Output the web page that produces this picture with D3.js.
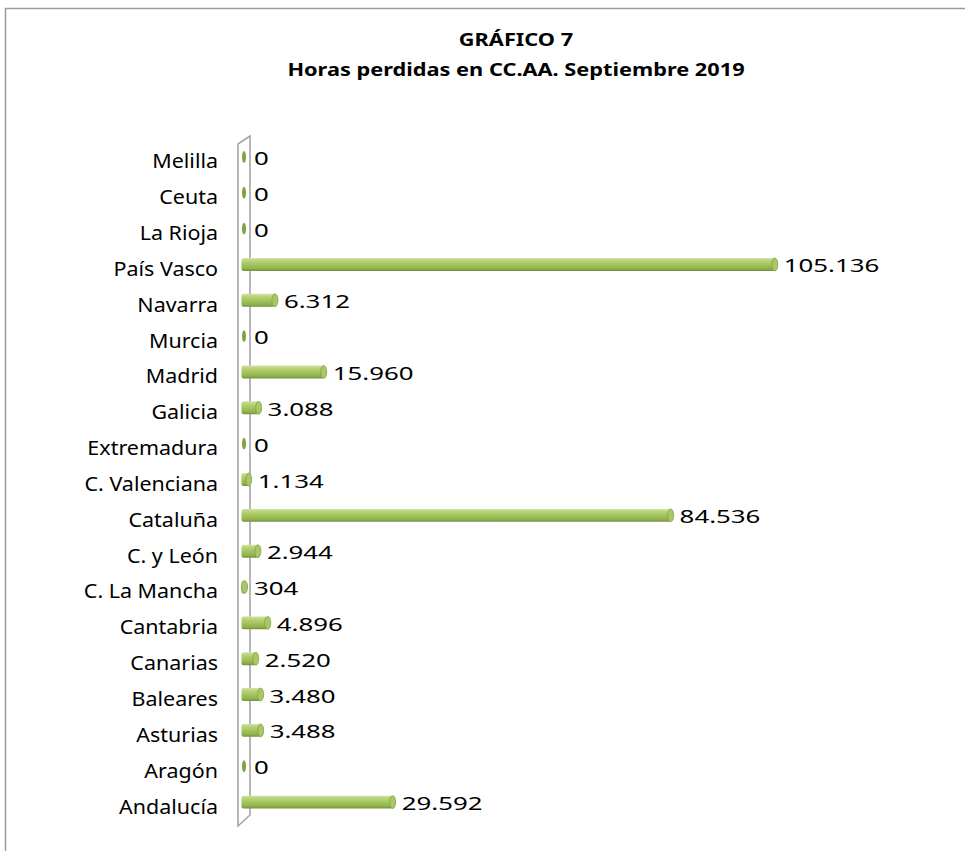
<!DOCTYPE html>
<html>
<head>
<meta charset="utf-8">
<script src="https://cdn.jsdelivr.net/npm/d3@7"></script>
<style>
  body { margin: 0; background: #fff; }
  svg { display: block; }
</style>
</head>
<body>
<svg id="svg" width="965" height="851"></svg>
<script>
// data, bottom row first (as in the Excel sheet)
const regions = ['Andalucía', 'Aragón', 'Asturias', 'Baleares', 'Canarias', 'Cantabria',
                 'C. La Mancha', 'C. y León', 'Cataluña', 'C. Valenciana', 'Extremadura',
                 'Galicia', 'Madrid', 'Murcia', 'Navarra', 'País Vasco', 'La Rioja', 'Ceuta', 'Melilla'];
const hours = [29592, 0, 3488, 3480, 2520, 4896, 304, 2944, 84536, 1134, 0,
               3088, 15960, 0, 6312, 105136, 0, 0, 0];
const titleLines = ['GRÁFICO 7', 'Horas perdidas en CC.AA. Septiembre 2019'];
const xMax = 120000;

const rows = regions.map((r, i) => ({region: r, value: hours[i]}));

const svg = d3.select('#svg');
const font = '"Noto Sans", "Open Sans", sans-serif';
const es = d3.formatLocale({decimal: ',', thousands: '.', grouping: [3], currency: ['', ' €']});
const fmt = es.format(',d');

// outer frame (only top and left show)
svg.append('rect')
    .attr('x', 5.5).attr('y', 8.5)
    .attr('width', 1000).attr('height', 900)
    .attr('fill', 'none')
    .attr('stroke', '#9a9a9a')
    .attr('stroke-width', 1.5);

// title
svg.selectAll('text.title').data(titleLines)
    .enter()
    .append('text')
    .classed('title', true)
    .attr('transform', (d, i) => 'translate(516,' + (46 + i * 30) + ') scale(1.28,1)')
    .attr('text-anchor', 'middle')
    .attr('font-family', font)
    .attr('font-weight', 'bold')
    .attr('font-size', '17px')
    .attr('fill', '#000')
    .text(d => d);

const yScale = d3.scaleBand()
                .domain(regions.slice().reverse())
                .range([139, 820])
                .paddingInner(0.64)
                .paddingOuter(0.32);
const xScale = d3.scaleLinear()
                .domain([0, xMax])
                .range([243, 850]);

const bw = yScale.bandwidth();
const cy = d => yScale(d.region) + bw / 2;

// gradient for the cylinders
const defs = svg.append('defs');
const grad = defs.append('linearGradient')
    .attr('id', 'barGrad')
    .attr('x1', 0).attr('y1', 0).attr('x2', 0).attr('y2', 1);
[[0, '#d2e3a8'], [0.2, '#b9d479'], [0.5, '#a5c55f'], [0.82, '#8fb24a'], [1, '#748f39']]
    .forEach(s => grad.append('stop').attr('offset', s[0]).attr('stop-color', s[1]));

// the thin 3D wall along the category axis
const r0 = yScale.range()[0], r1 = yScale.range()[1];
const wallFront = 238, wallBack = 250;
svg.append('path')
    .attr('d', 'M' + wallFront + ',' + (r1 + 6) +
               'L' + wallFront + ',' + (r0 + 5) +
               'L' + wallBack + ',' + (r0 - 3) +
               'L' + wallBack + ',' + (r1 - 5) + 'Z')
    .attr('fill', '#fff')
    .attr('stroke', '#a6a6a6')
    .attr('stroke-width', 1.6);

// bars
const x0 = xScale(0);
const bars = svg.append('g').selectAll('g.bar').data(rows)
    .enter()
    .append('g')
    .classed('bar', true);

bars.filter(d => d.value > 0)
    .append('rect')
    .attr('x', x0 - 1.5)
    .attr('y', d => yScale(d.region))
    .attr('width', d => xScale(d.value) - x0 + 1.5)
    .attr('height', bw)
    .attr('rx', 2)
    .attr('fill', 'url(#barGrad)');

bars.filter(d => d.value > 0)
    .append('ellipse')
    .attr('cx', d => xScale(d.value))
    .attr('cy', cy)
    .attr('rx', 3)
    .attr('ry', bw / 2)
    .attr('fill', '#a9c765')
    .attr('stroke', '#84a147')
    .attr('stroke-width', 0.8);

bars.filter(d => d.value === 0)
    .append('ellipse')
    .attr('cx', x0 + 1)
    .attr('cy', cy)
    .attr('rx', 2)
    .attr('ry', bw / 2 - 0.5)
    .attr('fill', '#7fa341');

// value labels, kept clear of the wall
svg.append('g').selectAll('text').data(rows)
    .enter()
    .append('text')
    .attr('transform', d => 'translate(' + Math.max(xScale(d.value) + 9, wallBack + 4) + ',' + (cy(d) + 8) + ') scale(1.36,1)')
    .attr('font-family', font)
    .attr('font-size', '19px')
    .attr('fill', '#000')
    .text(d => fmt(d.value));

// category axis labels
const yAxis = svg.append('g')
    .attr('transform', 'translate(218,0)')
    .call(d3.axisLeft(yScale).tickSize(0).tickPadding(0));
yAxis.select('.domain').remove();
yAxis.selectAll('text')
    .attr('x', 0)
    .attr('dy', null)
    .attr('y', bw / 2 + 5)
    .attr('transform', 'scale(1.13,1)')
    .attr('font-family', font)
    .attr('font-size', '19px')
    .attr('fill', '#000');
</script>
</body>
</html>
